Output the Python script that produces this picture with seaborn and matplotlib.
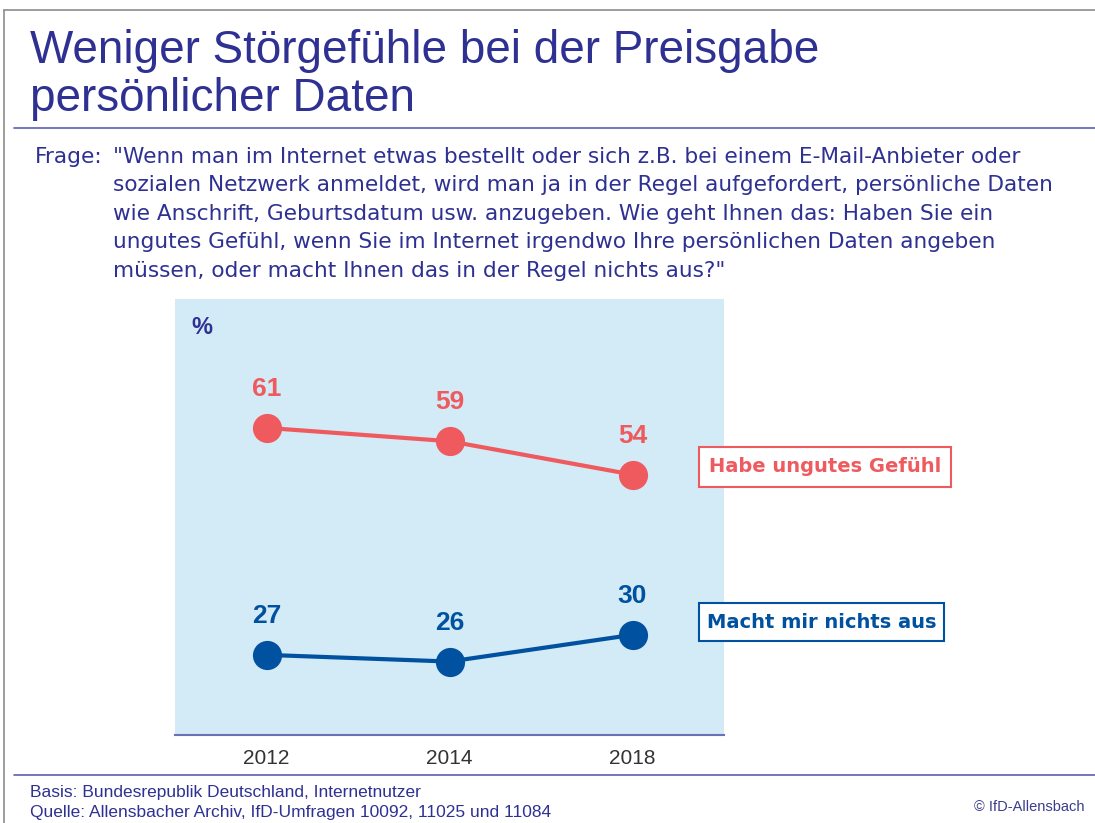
import matplotlib
matplotlib.use('Agg')
import matplotlib.pyplot as plt
import numpy as np
import pandas as pd
import seaborn as sns
from matplotlib.lines import Line2D
from matplotlib.patches import Rectangle

# data
years = ['2012', '2014', '2018']
ungutes = [61, 59, 54]
nichts = [27, 26, 30]
series_names = ['Habe ungutes Gefühl', 'Macht mir nichts aus']

title_lines = ['Weniger Störgefühle bei der Preisgabe', 'persönlicher Daten']
frage_lines = [
    '"Wenn man im Internet etwas bestellt oder sich z.B. bei einem E-Mail-Anbieter oder',
    'sozialen Netzwerk anmeldet, wird man ja in der Regel aufgefordert, persönliche Daten',
    'wie Anschrift, Geburtsdatum usw. anzugeben. Wie geht Ihnen das: Haben Sie ein',
    'ungutes Gefühl, wenn Sie im Internet irgendwo Ihre persönlichen Daten angeben',
    'müssen, oder macht Ihnen das in der Regel nichts aus?"',
]
basis = 'Basis: Bundesrepublik Deutschland, Internetnutzer'
quelle = 'Quelle: Allensbacher Archiv, IfD-Umfragen 10092, 11025 und 11084'

RED = '#ef5a5f'
BLUE = '#0052a0'
NAVY = '#2e3192'
AXC = '#6b70b8'
BG = '#d3eaf7'

df = pd.DataFrame({
    'Jahr': years * 2,
    'Wert': ungutes + nichts,
    'Reihe': [series_names[0]] * 3 + [series_names[1]] * 3,
})

sns.set_style('white')
plt.rcParams['font.family'] = ['Liberation Sans', 'DejaVu Sans']

W, H = 1095, 823
fig = plt.figure(figsize=(W / 100, H / 100), dpi=100)
fig.patch.set_facecolor('white')

def fx(x):
    return x / W

def fy(y):
    return 1 - y / H

# outer frame
fig.add_artist(Line2D([fx(4), 1], [fy(10), fy(10)], color='#8c8c8c', lw=1.2))
fig.add_artist(Line2D([fx(4), fx(4)], [fy(10), 0], color='#8c8c8c', lw=1.2))

# title
fig.text(fx(30), fy(63), title_lines[0], color=NAVY, fontsize=33, va='baseline', ha='left')
fig.text(fx(30), fy(111), title_lines[1], color=NAVY, fontsize=33, va='baseline', ha='left')
fig.add_artist(Line2D([fx(14), 1], [fy(128), fy(128)], color='#5a5fb0', lw=1.2))

# question
fig.text(fx(35), fy(157), 'Frage:', color=NAVY, fontsize=15.6, va='center', ha='left',
         family='DejaVu Sans')
for i, line in enumerate(frage_lines):
    fig.text(fx(113), fy(157 + i * 28.4), line, color=NAVY, fontsize=15.6, va='center',
             ha='left', family='DejaVu Sans')

# plot area
ax = fig.add_axes([fx(175), fy(735), fx(724) - fx(175), (735 - 299) / H])
ax.set_facecolor(BG)

sns.pointplot(data=df, x='Jahr', y='Wert', hue='Reihe', palette=[RED, BLUE],
              markersize=21, markeredgewidth=0, linewidth=3, ax=ax, legend=False,
              errorbar=None)

ax.set_ylim(15, 80.3)
ax.set_xlim(-0.5, 2.5)
for s in ['top', 'right', 'left']:
    ax.spines[s].set_visible(False)
ax.spines['bottom'].set_color(AXC)
ax.spines['bottom'].set_linewidth(1.5)
ax.set_yticks([])
ax.set_xlabel('')
ax.set_ylabel('')
ax.set_xticks([0, 1, 2])
ax.set_xticklabels(years)
ax.set_xticks([-0.5, 0.5, 1.5, 2.5], minor=True)
ax.tick_params(axis='x', which='major', length=0, pad=10, labelsize=15, labelcolor='#333333')
ax.tick_params(axis='x', which='minor', direction='in', length=11, width=1.5, color=AXC)

for i, v in enumerate(ungutes):
    ax.annotate(str(v), (i, v), xytext=(0, 28), textcoords='offset points',
                ha='center', va='center', color=RED, fontsize=19, fontweight='bold')
for i, v in enumerate(nichts):
    ax.annotate(str(v), (i, v), xytext=(0, 28), textcoords='offset points',
                ha='center', va='center', color=BLUE, fontsize=19, fontweight='bold')

ax.text(0.03, 0.935, '%', transform=ax.transAxes, color=NAVY, fontsize=17,
        fontweight='bold', ha='left', va='center')

# series labels in boxes
boxes = [(699, 447, 951, 487, RED), (699, 603, 944, 641, BLUE)]
for name, (x0, y0, x1, y1, col) in zip(series_names, boxes):
    fig.add_artist(Rectangle((fx(x0), fy(y1)), fx(x1 - x0), (y1 - y0) / H,
                             facecolor='white', edgecolor=col, lw=1.5))
    fig.text(fx((x0 + x1) / 2), fy((y0 + y1) / 2), name, color=col, fontsize=14,
             fontweight='bold', ha='center', va='center', family='DejaVu Sans')

# footer
fig.add_artist(Line2D([fx(14), 1], [fy(775), fy(775)], color='#5a5fb0', lw=1.2))
fig.text(fx(30), fy(792), basis, color=NAVY, fontsize=12.5, va='center', ha='left')
fig.text(fx(30), fy(813), quelle, color=NAVY, fontsize=12.5, va='center', ha='left')
fig.text(fx(1085), fy(807), '© IfD-Allensbach', color='#3a3d8c', fontsize=10.5,
         va='center', ha='right')

fig.savefig('out.png', dpi=100)
